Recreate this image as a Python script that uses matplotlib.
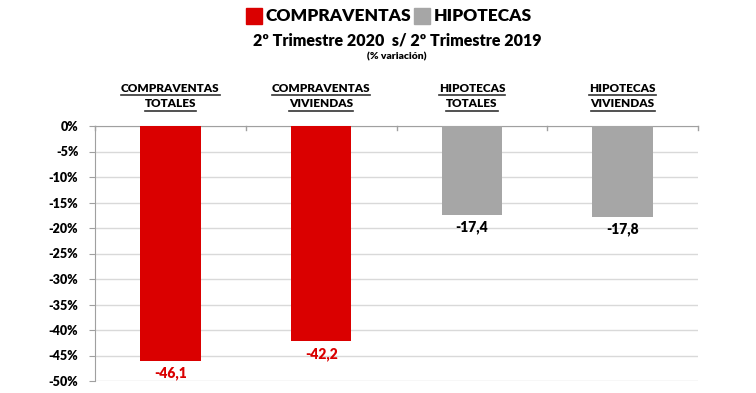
import numpy as np
import matplotlib
matplotlib.use('Agg')
import matplotlib.pyplot as plt
from matplotlib.lines import Line2D
from matplotlib.patches import Rectangle

plt.rcParams['font.family'] = ['Lato', 'DejaVu Sans']
W = 'heavy'

# Data
categories = [('COMPRAVENTAS', 'TOTALES'), ('COMPRAVENTAS', 'VIVIENDAS'),
              ('HIPOTECAS', 'TOTALES'), ('HIPOTECAS', 'VIVIENDAS')]
values = [-46.1, -42.2, -17.4, -17.8]
groups = ['COMPRAVENTAS', 'COMPRAVENTAS', 'HIPOTECAS', 'HIPOTECAS']
yticks = [0, -5, -10, -15, -20, -25, -30, -35, -40, -45, -50]

red = '#DA0000'
gray = '#A6A6A6'
colors = {'COMPRAVENTAS': red, 'HIPOTECAS': gray}
label_colors = {'COMPRAVENTAS': red, 'HIPOTECAS': 'black'}

fig = plt.figure(figsize=(7.56, 3.93), dpi=100)
ax = fig.add_axes([95/756, 1-381/393, 603/756, 255/393])

x = np.arange(len(values))
ax.bar(x, values, width=0.4, color=[colors[g] for g in groups], zorder=3)

ax.set_xlim(-0.5, len(values) - 0.5)
ax.set_ylim(-50, 0)
ax.set_yticks(yticks)
ax.set_yticklabels(['%d%%' % t for t in yticks], fontweight=W, fontsize=9)
ax.yaxis.grid(True, color='#D9D9D9', lw=1, zorder=0)
ax.tick_params(axis='y', length=4, color='#A0A0A0', pad=8)
ax.set_xticks([])

for s in ['right', 'bottom']:
    ax.spines[s].set_visible(False)
ax.spines['left'].set_color('#A0A0A0')
ax.spines['top'].set_color('#A0A0A0')

# tick marks on the top axis at category boundaries
for b in np.arange(-0.5, len(values), 1.0):
    ax.plot([b, b], [0, -0.7], color='#A0A0A0', lw=1, clip_on=False, zorder=4)

# value labels
for xi, v, g in zip(x, values, groups):
    ax.text(xi, v - 1.1, ('%.1f' % v).replace('.', ','), ha='center', va='top',
            fontsize=10, fontweight=W, color=label_colors[g])

# category labels with underline
fig.canvas.draw()
renderer = fig.canvas.get_renderer()
for xi, (l1, l2) in zip(x, categories):
    xd = ax.transData.transform((xi, 0))[0]
    for txt, yy in [(l1, 88), (l2, 104)]:
        t = fig.text(xd / 756, 1 - yy / 393, txt, ha='center', va='center',
                     fontsize=8.5, fontweight=W)
        bb = t.get_window_extent(renderer)
        fig.add_artist(Line2D([bb.x0 / 756, bb.x1 / 756],
                              [(bb.y0 - 1.5) / 393, (bb.y0 - 1.5) / 393],
                              color='#333333', lw=1.2))

# legend header
fig.add_artist(Rectangle((246/756, 1-24/393), 16/756, 16/393, color=red))
fig.text(266/756, 1-16/393, 'COMPRAVENTAS', fontsize=12.5, fontweight=W, va='center')
fig.add_artist(Rectangle((414/756, 1-24/393), 16/756, 16/393, color=gray))
fig.text(434/756, 1-16/393, 'HIPOTECAS', fontsize=12.5, fontweight=W, va='center')

fig.text(397/756, 1-40/393, '2º Trimestre 2020  s/ 2º Trimestre 2019', fontsize=11.5,
         fontweight=W, ha='center', va='center')
fig.text(397/756, 1-57/393, '(% variación)', fontsize=7.5, fontweight=W,
         ha='center', va='center')

fig.savefig('out.png', dpi=100)
